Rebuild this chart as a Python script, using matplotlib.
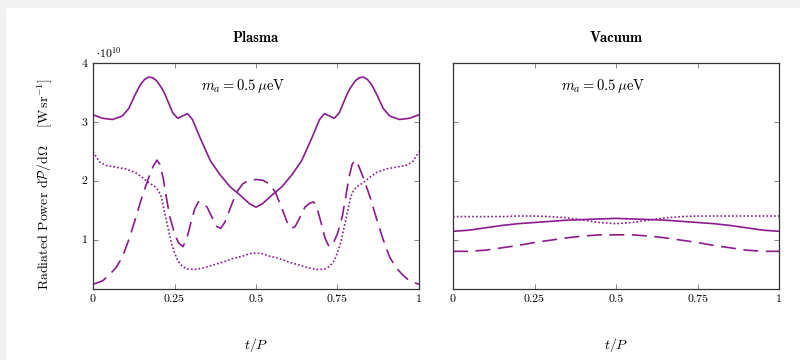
import numpy as np
import matplotlib
matplotlib.use("Agg")
from matplotlib import pyplot as plt
from matplotlib.patches import Rectangle

plt.rcParams['font.family'] = ['cmr10', 'DejaVu Serif']
plt.rcParams['mathtext.fontset'] = 'cm'
plt.rcParams['axes.unicode_minus'] = False

PURPLE = '#8a1c8e'

# Plasma panel, values in units of 1e10 W/sr
plasma_solid_t = [0, .03, .06, .09, .11, .13, .145, .158, .17, .183, .195, .21, .22, .235, .245,
                  .26, .275, .29, .305, .33, .36, .39, .42, .45, .48, .5, .52, .55, .58, .61,
                  .64, .67, .695, .71, .725, .74, .755, .765, .78, .79, .805, .817, .83, .842,
                  .855, .87, .89, .91, .94, .97, 1]
plasma_solid = [3.12, 3.06, 3.04, 3.10, 3.23, 3.47, 3.63, 3.72, 3.76, 3.75, 3.70, 3.58, 3.48,
                3.28, 3.15, 3.06, 3.10, 3.14, 3.04, 2.71, 2.34, 2.10, 1.90, 1.76, 1.61, 1.55,
                1.61, 1.76, 1.90, 2.10, 2.34, 2.71, 3.04, 3.14, 3.10, 3.06, 3.15, 3.28, 3.48,
                3.58, 3.70, 3.75, 3.76, 3.72, 3.63, 3.47, 3.23, 3.10, 3.04, 3.06, 3.12]

plasma_dot_t = [0, .02, .04, .07, .1, .13, .15, .17, .19, .2, .21, .22, .23, .24, .25, .26,
                .275, .29, .31, .34, .37, .4, .43, .46, .48, .5, .52, .54, .57, .6, .63, .66,
                .69, .71, .725, .74, .75, .76, .77, .78, .79, .8, .81, .83, .85, .87, .9, .93,
                .96, .98, 1]
plasma_dot = [2.49, 2.32, 2.26, 2.23, 2.20, 2.14, 2.06, 1.97, 1.90, 1.84, 1.72, 1.45, 1.20, 0.95,
              0.78, 0.64, 0.54, 0.50, 0.49, 0.52, 0.57, 0.62, 0.68, 0.72, 0.76, 0.77, 0.76, 0.72,
              0.68, 0.62, 0.57, 0.52, 0.49, 0.50, 0.54, 0.64, 0.78, 0.95, 1.20, 1.45, 1.72, 1.84,
              1.90, 1.97, 2.06, 2.14, 2.20, 2.23, 2.26, 2.32, 2.49]

plasma_dash_t = [0, .03, .05, .07, .09, .11, .13, .15, .17, .185, .196, .205, .215, .225, .235,
                 .25, .263, .276, .288, .3, .312, .323, .335, .35, .365, .38, .392, .405, .42,
                 .44, .46, .48, .5, .52, .54, .56, .58, .595, .608, .62, .635, .65, .665, .677,
                 .688, .7, .712, .724, .737, .75, .765, .775, .785, .795, .804, .815, .83, .85,
                 .87, .89, .91, .93, .95, .97, 1]
plasma_dash = [0.24, 0.30, 0.40, 0.52, 0.70, 1.00, 1.35, 1.72, 2.04, 2.25, 2.35, 2.28, 2.05, 1.72,
               1.40, 1.10, 0.94, 0.88, 1.02, 1.28, 1.52, 1.64, 1.62, 1.55, 1.38, 1.22, 1.19, 1.30,
               1.52, 1.80, 1.95, 2.01, 2.02, 2.01, 1.95, 1.80, 1.52, 1.30, 1.19, 1.22, 1.38, 1.55,
               1.62, 1.64, 1.52, 1.28, 1.02, 0.88, 0.94, 1.10, 1.40, 1.72, 2.05, 2.28, 2.35, 2.25,
               2.04, 1.72, 1.35, 1.00, 0.70, 0.52, 0.40, 0.30, 0.24]

# Vacuum panel
vac_t = [0, .05, .1, .15, .2, .25, .3, .35, .4, .45, .5, .55, .6, .65, .7, .75, .8, .85, .9, .95, 1]
vac_solid = [1.14, 1.16, 1.20, 1.24, 1.27, 1.29, 1.31, 1.33, 1.34, 1.35, 1.36,
             1.35, 1.34, 1.33, 1.31, 1.29, 1.27, 1.24, 1.20, 1.16, 1.14]
vac_dot = [1.39, 1.39, 1.39, 1.39, 1.40, 1.40, 1.39, 1.37, 1.33, 1.29, 1.27,
           1.29, 1.33, 1.37, 1.39, 1.40, 1.40, 1.40, 1.40, 1.40, 1.40]
vac_dash = [0.80, 0.80, 0.82, 0.86, 0.90, 0.95, 0.99, 1.03, 1.06, 1.08, 1.08,
            1.08, 1.06, 1.03, 0.99, 0.95, 0.90, 0.86, 0.82, 0.80, 0.80]

x_ticks = [0, 0.25, 0.5, 0.75, 1]
x_labels = ['0', '0.25', '0.5', '0.75', '1']
y_ticks = [1, 2, 3, 4]
y_labels = ['1', '2', '3', '4']

fig = plt.figure(figsize=(8, 3.6), dpi=100)
# light grey frame at top and left edge of the screenshot
fig.patches.append(Rectangle((0, 1 - 7 / 360), 1, 7 / 360, transform=fig.transFigure,
                             color='#f2f2f2', zorder=-5))
fig.patches.append(Rectangle((0, 0), 5 / 800, 1, transform=fig.transFigure,
                             color='#f2f2f2', zorder=-5))

ax1 = fig.add_axes([93 / 800, 1 - 289 / 360, 326 / 800, 226 / 360])
ax2 = fig.add_axes([453 / 800, 1 - 289 / 360, 326 / 800, 226 / 360])

dash_style = (0, (9, 4.5))
dot_style = (0, (1, 1.3))

ax1.plot(plasma_solid_t, plasma_solid, color=PURPLE, lw=1.2)
ax1.plot(plasma_dot_t, plasma_dot, color=PURPLE, lw=1.2, linestyle=dot_style)
ax1.plot(plasma_dash_t, plasma_dash, color=PURPLE, lw=1.2, linestyle=dash_style)

ax2.plot(vac_t, vac_solid, color=PURPLE, lw=1.2)
ax2.plot(vac_t, vac_dot, color=PURPLE, lw=1.2, linestyle=dot_style)
ax2.plot(vac_t, vac_dash, color=PURPLE, lw=1.2, linestyle=dash_style)

for ax in (ax1, ax2):
    ax.set_xlim(0, 1)
    ax.set_ylim(0.16, 4)
    ax.set_xticks(x_ticks)
    ax.set_xticklabels(x_labels, fontsize=8.5)
    ax.set_yticks(y_ticks)
    ax.tick_params(direction='in', top=True, right=True, length=3.5, width=0.5,
                   color='#555555', pad=4)
    for s in ax.spines.values():
        s.set_linewidth(0.9)
        s.set_color('#333333')
    ax.text(0.46, 0.9, r'$m_a = 0.5\,\mu\mathrm{eV}$', transform=ax.transAxes,
            ha='center', va='center', fontsize=10.5)

ax1.set_yticklabels(y_labels, fontsize=8.5)
ax2.set_yticklabels([])

fig.text(256 / 800, 1 - 38 / 360, 'Plasma', ha='center', va='center',
         fontsize=10.5, family='cmb10')
fig.text(616 / 800, 1 - 38 / 360, 'Vacuum', ha='center', va='center',
         fontsize=10.5, family='cmb10')
fig.text(96 / 800, 1 - 53 / 360, r'$\cdot 10^{10}$', ha='left', va='center', fontsize=8.5)
fig.text(45 / 800, 1 - 184 / 360,
         r'Radiated Power $\mathrm{d}\mathcal{P}/\mathrm{d}\Omega$    $[\mathrm{W\,sr}^{-1}]$',
         rotation=90, ha='center', va='center', fontsize=10)
fig.text(256 / 800, 1 - 345 / 360, r'$t/P$', ha='center', va='center', fontsize=10)
fig.text(616 / 800, 1 - 345 / 360, r'$t/P$', ha='center', va='center', fontsize=10)

fig.savefig('out.png', dpi=100)
